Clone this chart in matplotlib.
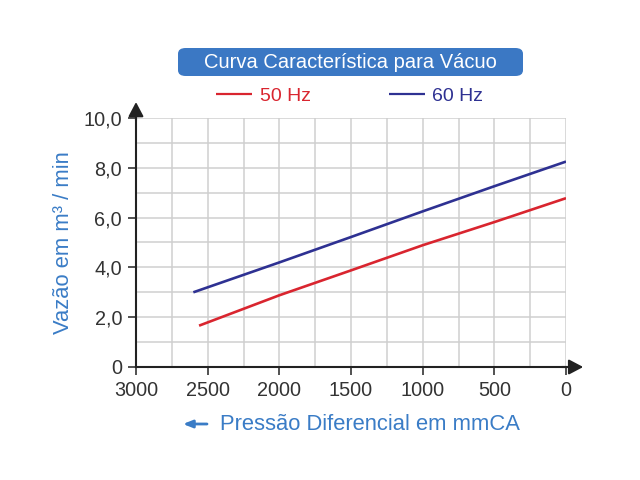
import matplotlib.pyplot as plt
from matplotlib.patches import FancyBboxPatch, FancyArrowPatch
from matplotlib.ticker import MultipleLocator, FixedLocator

plt.rcParams["font.family"] = ["Liberation Sans", "DejaVu Sans"]

# data
pressure_50 = [2560, 2000, 1500, 1000, 500, 0]
flow_50 = [1.66, 2.88, 3.88, 4.89, 5.82, 6.78]
pressure_60 = [2600, 2000, 1500, 1000, 500, 0]
flow_60 = [3.0, 4.2, 5.22, 6.25, 7.26, 8.25]

x_ticks = [3000, 2500, 2000, 1500, 1000, 500, 0]
x_tick_labels = ["3000", "2500", "2000", "1500", "1000", "500", "0"]
y_ticks = [0, 2, 4, 6, 8, 10]
y_tick_labels = ["0", "2,0", "4,0", "6,0", "8,0", "10,0"]

RED = "#d9252f"
NAVY = "#2e3192"
LABEL_BLUE = "#3a7cc6"
BOX_BLUE = "#3b78c4"
TEXT = "#333333"

fig = plt.figure(figsize=(6.4, 4.8), dpi=100)
ax = fig.add_axes([136 / 640, 1 - 367 / 480, 430 / 640, 249 / 480])

ax.plot(pressure_50, flow_50, color=RED, lw=1.9, label="50 Hz", solid_capstyle="butt")
ax.plot(pressure_60, flow_60, color=NAVY, lw=1.9, label="60 Hz", solid_capstyle="butt")

ax.set_xlim(3000, 0)
ax.set_ylim(0, 10)
ax.xaxis.set_major_locator(FixedLocator(x_ticks))
ax.set_xticklabels(x_tick_labels)
ax.yaxis.set_major_locator(FixedLocator(y_ticks))
ax.set_yticklabels(y_tick_labels)
ax.xaxis.set_minor_locator(MultipleLocator(250))
ax.yaxis.set_minor_locator(MultipleLocator(1))
ax.grid(True, which="both", color="#cfcfcf", lw=1.1)
ax.set_axisbelow(True)
ax.tick_params(which="major", length=6, width=1.2, color=TEXT, labelsize=14.3, labelcolor=TEXT, pad=4)
ax.tick_params(which="minor", length=0)

for side in ["top", "right"]:
    ax.spines[side].set_visible(False)
for side in ["left", "bottom"]:
    ax.spines[side].set_color("#222222")
    ax.spines[side].set_linewidth(1.5)

# axis arrows
head = dict(arrowstyle="-|>,head_length=0.72,head_width=0.38", color="#222222", lw=1.5,
            mutation_scale=12, shrinkA=0, shrinkB=0)
ax.annotate("", xy=(0, 1.064), xytext=(0, 0.99), xycoords="axes fraction",
            arrowprops=head, annotation_clip=False)
ax.annotate("", xy=(1.04, 0), xytext=(0.99, 0), xycoords="axes fraction",
            arrowprops=head, annotation_clip=False)

ax.set_ylabel("Vazão em m³ / min", color=LABEL_BLUE, fontsize=15.8, labelpad=7)

# title box
box = FancyBboxPatch((178 / 640, 1 - 76 / 480), 345 / 640, 28 / 480,
                     boxstyle="round,pad=0,rounding_size=0.012", transform=fig.transFigure,
                     facecolor=BOX_BLUE, edgecolor="none")
fig.patches.append(box)
fig.text(350.5 / 640, 1 - 62 / 480, "Curva Característica para Vácuo", color="white",
         fontsize=14.5, ha="center", va="center")

leg = ax.legend(loc="center", bbox_to_anchor=(0.497, 1.088), ncol=2, frameon=False,
                fontsize=14, handlelength=1.85, handletextpad=0.4, columnspacing=4.0)
for text, line in zip(leg.get_texts(), leg.get_lines()):
    text.set_color(line.get_color())
    line.set_linewidth(1.6)

# x label with arrow
fig.text(370 / 640, 1 - 425 / 480, "Pressão Diferencial em mmCA", color=LABEL_BLUE,
         fontsize=15.8, ha="center", va="center")
fig.patches.append(FancyArrowPatch(
    (207 / 640, 1 - 424 / 480), (183 / 640, 1 - 424 / 480), transform=fig.transFigure,
    arrowstyle="-|>,head_length=0.55,head_width=0.22", mutation_scale=10,
    color=LABEL_BLUE, lw=2.0, shrinkA=0, shrinkB=0))

fig.savefig("out.png", dpi=100)
